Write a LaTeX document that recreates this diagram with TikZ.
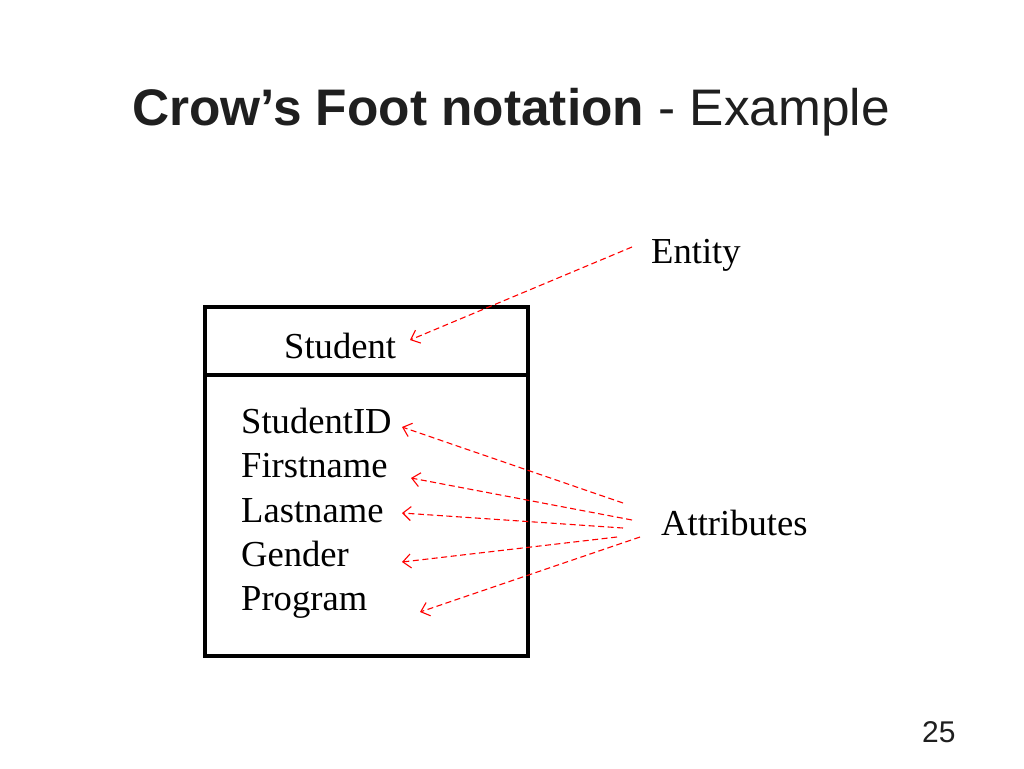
\documentclass[tikz,border=0pt]{standalone}
\usepackage{fontspec}
\setmainfont{Liberation Serif}
\newfontfamily\slidefont{Liberation Sans}
\usetikzlibrary{arrows.meta}

\begin{document}
\begin{tikzpicture}[x=1pt, y=-1pt,
        label/.style={anchor=base west, inner sep=0pt, font=\fontsize{36.6}{44}\selectfont},
        pointer/.style={draw=red, line width=1.1pt, dash pattern=on 6pt off 3.5pt, -{Straight Barb[length=8pt, width=14pt]}}]
        % Define Variables
        \def\lB{205}
        \def\rB{528}
        \def\tB{307}
        \def\mB{375}
        \def\bB{656}

        \useasboundingbox (0,0) rectangle (1024,768);

        % Title
        \node[anchor=base, inner sep=0pt, text=black!88, font=\slidefont\fontsize{51.4}{60}\selectfont] (title) at (511,125) {\textbf{Crow’s Foot notation} - Example};
        \node[anchor=base west, inner sep=0pt, text=black!88, font=\slidefont\fontsize{30}{36}\selectfont] (page) at (922,742) {25};

        % Entity box
        \draw[line width=4pt] (\lB,\tB) rectangle (\rB,\bB);
        \draw[line width=4pt] (\lB,\mB) -- (\rB,\mB);
        \node[label] (student) at (284,358) {Student};
        \node[label] (sid) at (241,433) {StudentID};
        \node[label] (fname) at (241,477) {Firstname};
        \node[label] (lname) at (241,522) {Lastname};
        \node[label] (gender) at (241,566) {Gender};
        \node[label] (prog) at (241,610) {Program};

        % Callouts
        \node[label] (entity) at (651,263) {Entity};
        \node[label] (attrs) at (661,535) {Attributes};

        % Pointer ends
        \coordinate (e-from) at (632,247);
        \coordinate (e-to) at (410,340);
        \coordinate (a1-from) at (623,503);
        \coordinate (a2-from) at (632,520);
        \coordinate (a3-from) at (623,528);
        \coordinate (a4-from) at (617,537);
        \coordinate (a5-from) at (640,537);
        \coordinate (a1-to) at (402,427);
        \coordinate (a2-to) at (411,478);
        \coordinate (a3-to) at (402,513);
        \coordinate (a4-to) at (402,562);
        \coordinate (a5-to) at (420,612);

        % Pointers
        \draw[pointer] (e-from) -- (e-to);
        \foreach \i in {1,...,5} {
            \draw[pointer] (a\i-from) -- (a\i-to);
        }
\end{tikzpicture}
\end{document}
